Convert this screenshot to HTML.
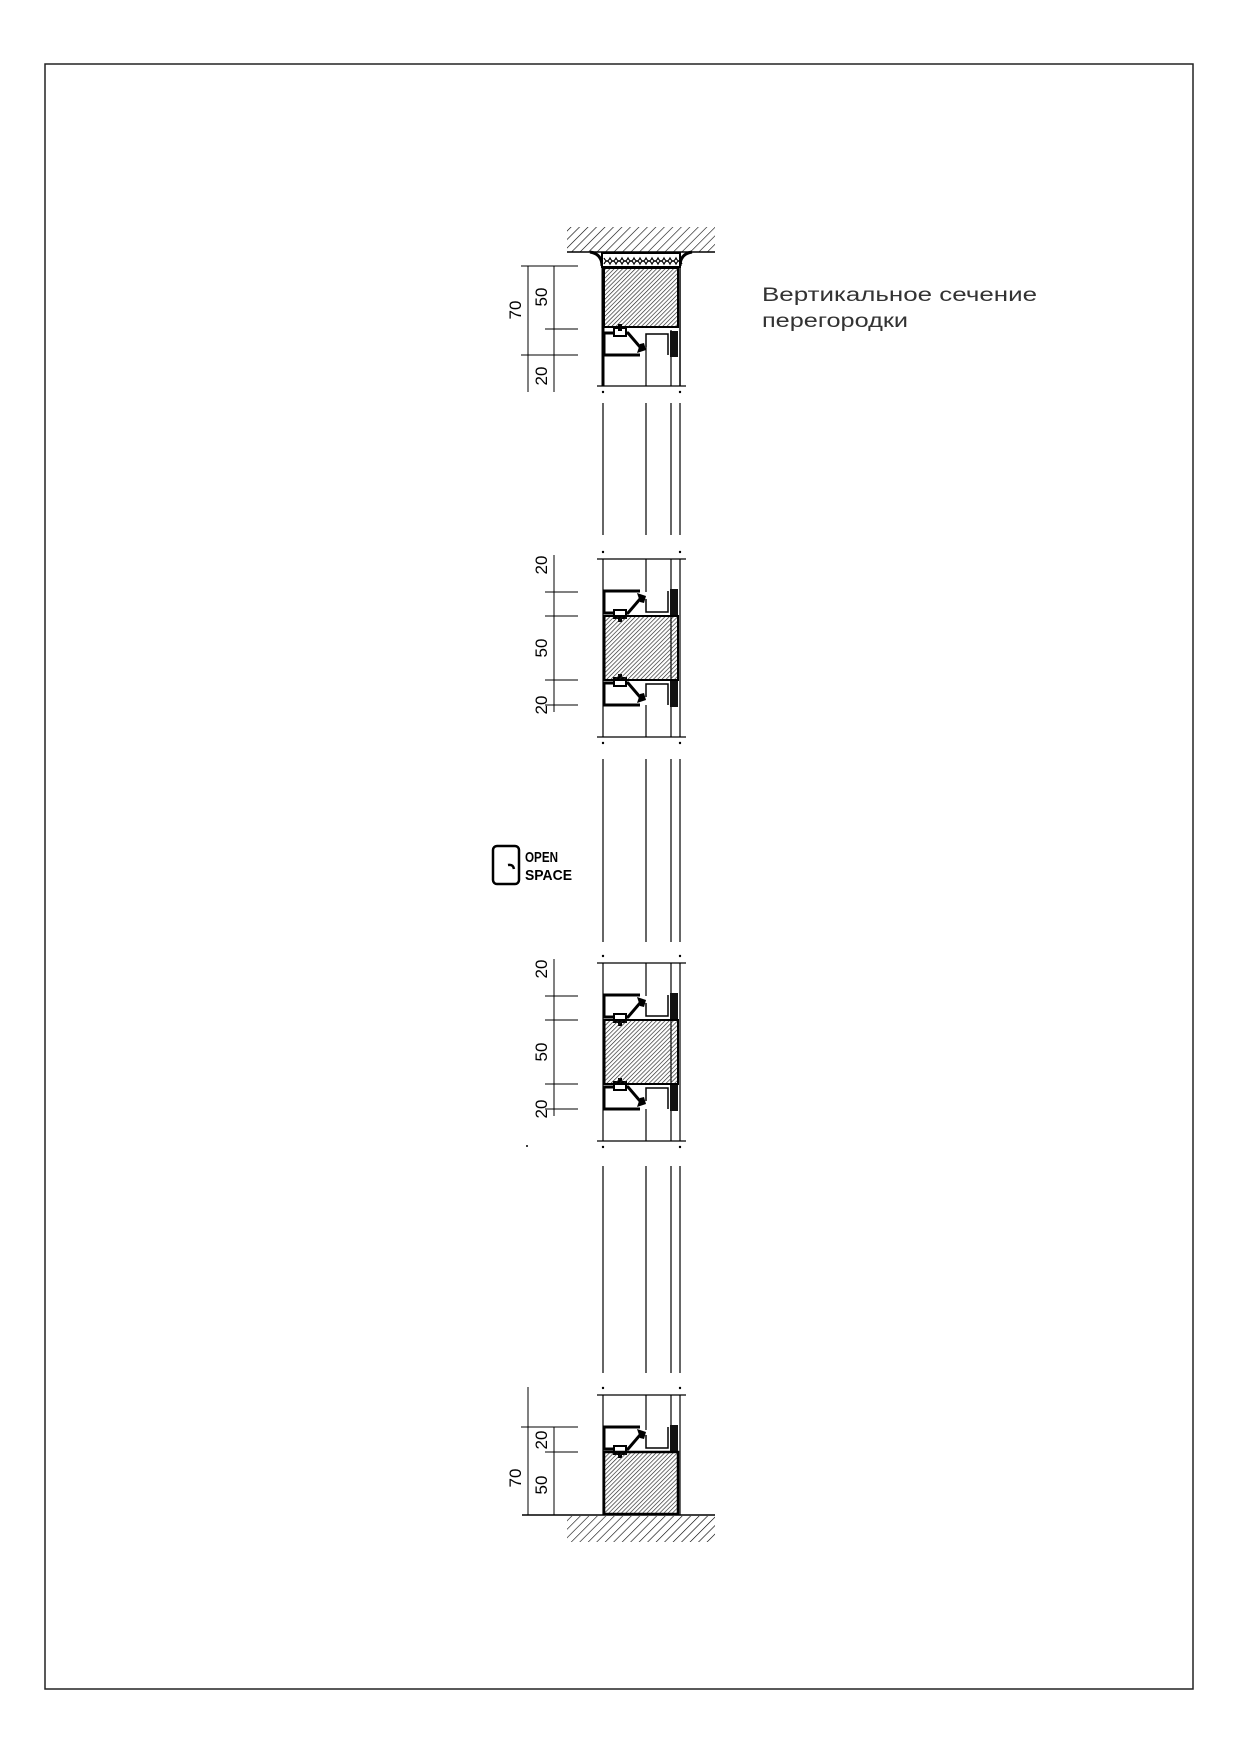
<!DOCTYPE html>
<html><head><meta charset="utf-8"><style>
html,body{margin:0;padding:0;background:#fff;width:1239px;height:1754px;overflow:hidden}
svg{display:block}
</style></head><body>
<svg width="1239" height="1754" viewBox="0 0 1239 1754" xmlns="http://www.w3.org/2000/svg" font-family="'Liberation Sans', sans-serif">
<defs>
<pattern id="hat" width="6" height="6" patternUnits="userSpaceOnUse" patternTransform="rotate(45)">
<line x1="0" y1="0" x2="0" y2="6" stroke="#000" stroke-width="1.2"/></pattern>
<pattern id="ins" width="3" height="3" patternUnits="userSpaceOnUse" patternTransform="rotate(45)">
<line x1="0" y1="0" x2="0" y2="3" stroke="#222" stroke-width="1.3"/></pattern>
<g id="prof">
<path d="M640,0 H604 V22 H628 L640,8" fill="none" stroke="#000" stroke-width="3"/>
<path d="M637,2 L646,5 L644,12 L640,11 Z" fill="#000"/>
<path d="M646,8 V21 H668 V0" fill="none" stroke="#000" stroke-width="1.5"/>
<rect x="670" y="-2" width="8" height="26" fill="#111"/>
<rect x="614" y="19" width="12" height="8" fill="#fff" stroke="#000" stroke-width="2"/>
<rect x="618" y="24" width="4" height="7" fill="#000"/>
</g>
<g id="profUp">
<path d="M640,0 H604 V-22 H628 L640,-8" fill="none" stroke="#000" stroke-width="3"/>
<path d="M637,-2 L646,-5 L644,-12 L640,-11 Z" fill="#000"/>
<path d="M646,-8 V-21 H668 V0" fill="none" stroke="#000" stroke-width="1.5"/>
<rect x="670" y="-24" width="8" height="26" fill="#111"/>
<rect x="614" y="-27" width="12" height="8" fill="#fff" stroke="#000" stroke-width="2"/>
<rect x="618" y="-31" width="4" height="7" fill="#000"/>
</g>
</defs>

<rect x="45" y="64" width="1148" height="1625" fill="none" stroke="#222" stroke-width="1.5"/>

<!-- TOP -->
<rect x="567" y="227" width="148" height="25" fill="url(#hat)"/>
<line x1="567" y1="252" x2="715" y2="252" stroke="#000" stroke-width="1.5"/>
<path d="M590,252 Q602,254 602,266 M692,252 Q680,254 680,266" fill="none" stroke="#000" stroke-width="3"/>
<rect x="602" y="253" width="78" height="14" fill="#fff" stroke="#000" stroke-width="2"/>
<g fill="none" stroke="#000" stroke-width="1.2">
<path d="M604,258 q3,6 6,0 q3,6 6,0 q3,6 6,0 q3,6 6,0 q3,6 6,0 q3,6 6,0 q3,6 6,0 q3,6 6,0 q3,6 6,0 q3,6 6,0 q3,6 6,0 q3,6 6,0 q3,6 6,0"/>
<path d="M604,264 q3,-6 6,0 q3,-6 6,0 q3,-6 6,0 q3,-6 6,0 q3,-6 6,0 q3,-6 6,0 q3,-6 6,0 q3,-6 6,0 q3,-6 6,0 q3,-6 6,0 q3,-6 6,0 q3,-6 6,0 q3,-6 6,0"/>
</g>
<rect x="604" y="268" width="74" height="59" fill="url(#ins)" stroke="#000" stroke-width="2"/>
<line x1="603" y1="266" x2="603" y2="386" stroke="#000" stroke-width="3"/>
<line x1="680" y1="266" x2="680" y2="386" stroke="#000" stroke-width="1.5"/>
<g stroke="#000" stroke-width="1.2"><line x1="646" y1="347" x2="646" y2="386"/><line x1="671" y1="330" x2="671" y2="386"/></g>
<use href="#profUp" transform="translate(0,355)"/>
<line x1="597" y1="386" x2="686" y2="386" stroke="#000" stroke-width="1.3"/>
<circle cx="603" cy="392" r="1.2"/><circle cx="680" cy="392" r="1.2"/>
<g stroke="#000" stroke-width="1">
<line x1="528" y1="266" x2="528" y2="392"/><line x1="554" y1="266" x2="554" y2="392"/>
<line x1="521" y1="266" x2="578" y2="266"/><line x1="545" y1="329" x2="578" y2="329"/>
<line x1="521" y1="355" x2="578" y2="355"/>
</g>
<g font-size="17" text-anchor="middle">
<text transform="translate(521,310) rotate(-90)">70</text>
<text transform="translate(547,297) rotate(-90)">50</text>
<text transform="translate(547,376) rotate(-90)">20</text>
</g>

<!-- glass gaps -->
<g stroke="#000" stroke-width="1.2">
<line x1="603" y1="403" x2="603" y2="535"/><line x1="646" y1="403" x2="646" y2="535"/><line x1="671" y1="403" x2="671" y2="535"/><line x1="680" y1="403" x2="680" y2="535"/>
<line x1="603" y1="759" x2="603" y2="942"/><line x1="646" y1="759" x2="646" y2="942"/><line x1="671" y1="759" x2="671" y2="942"/><line x1="680" y1="759" x2="680" y2="942"/>
<line x1="603" y1="1166" x2="603" y2="1373"/><line x1="646" y1="1166" x2="646" y2="1373"/><line x1="671" y1="1166" x2="671" y2="1373"/><line x1="680" y1="1166" x2="680" y2="1373"/>
</g>

<!-- MIDDLE BLOCKS -->
<g id="mid1">
<line x1="597" y1="559" x2="686" y2="559" stroke="#000" stroke-width="1.3"/>
<line x1="597" y1="737" x2="686" y2="737" stroke="#000" stroke-width="1.3"/>
<circle cx="603" cy="552" r="1.2"/><circle cx="680" cy="552" r="1.2"/>
<circle cx="603" cy="743" r="1.2"/><circle cx="680" cy="743" r="1.2"/>
<g stroke="#000" stroke-width="1.2">
<line x1="603" y1="559" x2="603" y2="737"/><line x1="646" y1="559" x2="646" y2="737"/>
<line x1="671" y1="559" x2="671" y2="737"/><line x1="680" y1="559" x2="680" y2="737"/></g>
<rect x="604" y="592" width="64" height="113" fill="#fff"/>
<use href="#prof" transform="translate(0,591)"/>
<use href="#profUp" transform="translate(0,705)"/>
<rect x="604" y="616" width="74" height="64" fill="url(#ins)" stroke="#000" stroke-width="2"/>
<line x1="604" y1="616" x2="604" y2="680" stroke="#000" stroke-width="3"/>
<g stroke="#000" stroke-width="1">
<line x1="554" y1="555" x2="554" y2="712"/>
<line x1="545" y1="592" x2="578" y2="592"/><line x1="545" y1="616" x2="578" y2="616"/>
<line x1="545" y1="680" x2="578" y2="680"/><line x1="545" y1="705" x2="578" y2="705"/>
</g>
<g font-size="17" text-anchor="middle">
<text transform="translate(547,565) rotate(-90)">20</text>
<text transform="translate(547,648) rotate(-90)">50</text>
<text transform="translate(547,705) rotate(-90)">20</text>
</g>
</g>
<use href="#mid1" transform="translate(0,404)"/>
<circle cx="527" cy="1146" r="1"/>

<!-- BOTTOM -->
<line x1="597" y1="1395" x2="686" y2="1395" stroke="#000" stroke-width="1.3"/>
<circle cx="603" cy="1388" r="1.2"/><circle cx="680" cy="1388" r="1.2"/>
<g stroke="#000" stroke-width="1.2">
<line x1="603" y1="1395" x2="603" y2="1515"/><line x1="646" y1="1395" x2="646" y2="1430"/>
<line x1="671" y1="1395" x2="671" y2="1452"/><line x1="680" y1="1395" x2="680" y2="1515"/></g>
<use href="#prof" transform="translate(0,1427)"/>
<rect x="604" y="1452" width="74" height="62" fill="url(#ins)" stroke="#000" stroke-width="2.5"/>
<rect x="567" y="1516" width="148" height="26" fill="url(#hat)"/>
<line x1="522" y1="1515" x2="715" y2="1515" stroke="#000" stroke-width="1.5"/>
<g stroke="#000" stroke-width="1">
<line x1="528" y1="1387" x2="528" y2="1515"/><line x1="554" y1="1427" x2="554" y2="1515"/>
<line x1="521" y1="1427" x2="578" y2="1427"/><line x1="545" y1="1452" x2="578" y2="1452"/>
</g>
<g font-size="17" text-anchor="middle">
<text transform="translate(521,1478) rotate(-90)">70</text>
<text transform="translate(547,1440) rotate(-90)">20</text>
<text transform="translate(547,1485) rotate(-90)">50</text>
</g>

<!-- title -->
<g font-size="19" fill="#333">
<text x="762" y="301" textLength="275" lengthAdjust="spacingAndGlyphs">Вертикальное сечение</text>
<text x="762" y="327" textLength="146" lengthAdjust="spacingAndGlyphs">перегородки</text>
</g>

<!-- open space logo -->
<rect x="493" y="846" width="26" height="38" rx="4" fill="none" stroke="#000" stroke-width="2.5"/>
<path d="M508,865 q5,-1 6,4" fill="none" stroke="#000" stroke-width="2.5"/>
<g font-size="15" font-weight="bold">
<text x="525" y="862" textLength="33" lengthAdjust="spacingAndGlyphs">OPEN</text>
<text x="525" y="880" textLength="47" lengthAdjust="spacingAndGlyphs">SPACE</text>
</g>
</svg>
</body></html>
